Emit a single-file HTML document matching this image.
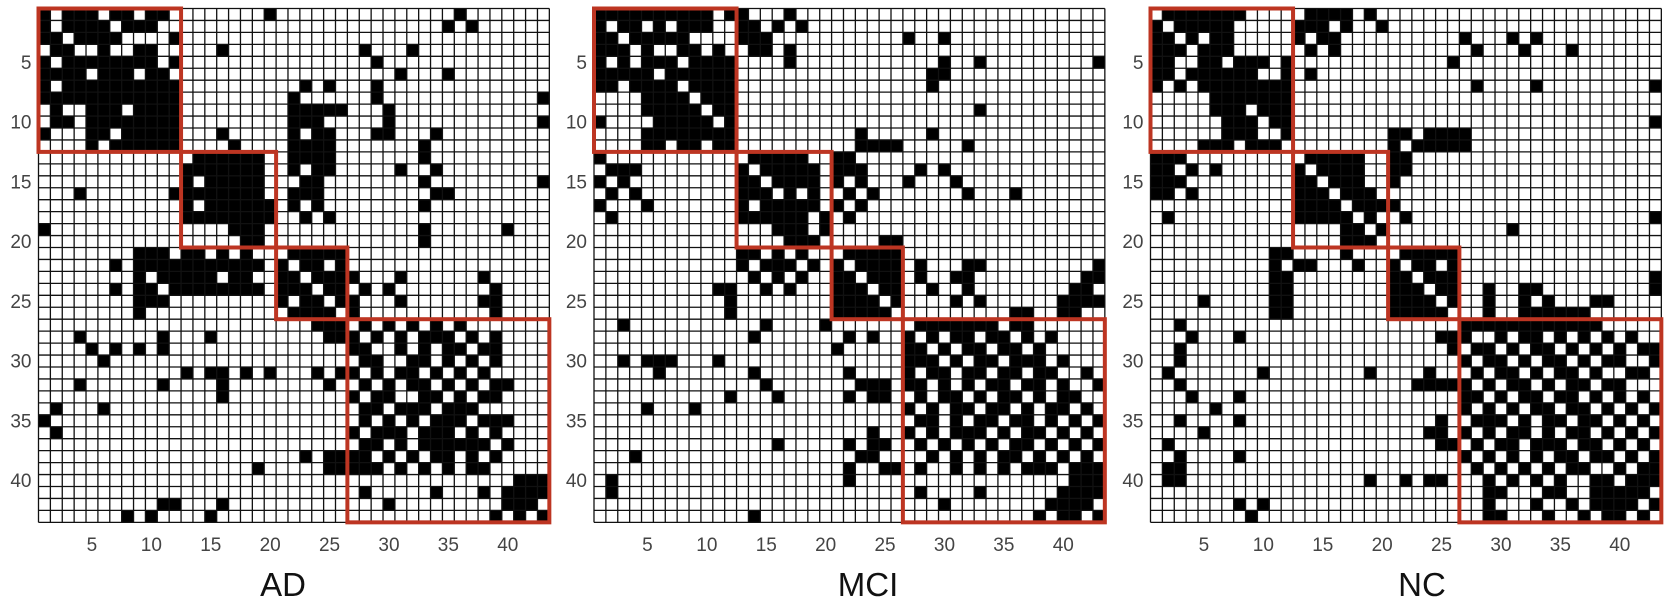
<!DOCTYPE html>
<html><head><meta charset="utf-8"><style>
html,body{margin:0;padding:0;background:#fff;}
svg{display:block;}
</style></head><body>
<svg id="chart" width="1679" height="600" xmlns="http://www.w3.org/2000/svg"></svg>
<script>
const panelTitles = ["AD","MCI","NC"];
const blockBounds = [0,12,20,26,43];
const tickValues = [5,10,15,20,25,30,35,40];
const nodeCount = 43;
const adRows = [
[1,3,4,5,7,8,10,11,20,36],[1,3,4,5,6,8,9,10,35,37],[1,2,4,5,6,7,12],[2,3,6,9,10,16,28,32],
[1,3,4,5,6,7,8,9,10,12,29],[1,2,3,4,6,7,8,10,11,31,35],[1,3,4,5,6,7,8,9,10,11,12,23,25,29],
[1,2,3,4,5,6,7,8,9,10,11,12,22,29,43],[2,5,6,7,9,10,11,12,22,23,24,25,26,30],
[2,3,5,6,7,8,9,10,11,12,22,23,24,30,43],[1,5,6,8,9,10,11,12,16,22,24,25,29,30,34],
[5,7,8,9,10,11,12,17,22,23,24,25,33],[14,15,16,17,18,19,22,23,24,25,33],
[13,14,15,16,17,18,19,22,24,25,31,34],[13,15,16,17,18,19,23,24,33,43],
[4,12,13,14,15,16,17,18,19,22,23,24,34,35],[13,15,16,17,18,19,20,22,24,33],
[13,14,15,16,17,18,19,20,23,25],[1,17,18,19,33,40],[18,19,33],
[9,10,11,13,14,16,18,22,23,24,25,26],[7,9,10,11,12,13,14,15,16,17,18,19,21,23,24,26],
[9,11,12,13,14,15,17,18,21,22,24,25,26,27,31,38],[7,9,10,12,13,14,15,16,17,18,19,21,22,23,25,26,28,30,39],
[9,10,11,21,23,24,26,27,31,38,39],[9,22,23,24,25,27,39],[24,25,26,28,30,32,34,36],
[4,11,15,25,26,27,29,31,33,34,35,37,39],[5,7,9,11,27,28,31,33,35,36,38,39],[6,28,29,32,33,35,37,39],
[13,15,16,18,20,24,26,27,29,31,32,34,36,38],[4,11,16,25,28,30,32,33,35,37,39,40],
[16,27,29,30,33,34,36,38,39],[2,6,28,29,31,32,33,35,36,37],[1,28,30,32,34,35,36,38,39,40],
[2,27,29,30,31,33,34,35,37,39],[28,29,31,33,34,35,36,37,38,40],[23,25,26,27,28,30,32,34,35,37,39],
[19,25,26,27,28,29,31,33,35,37,38],[41,42,43],[28,34,38,40,41,42,43],[11,12,16,30,40,41,42],[8,10,15,39,41,43]
];
const mciRows = [
[1,2,3,4,5,6,7,8,9,10,12,13,17],[1,3,4,6,8,9,10,13,14,16,18],[1,2,4,5,6,7,8,13,14,15,27,30],
[1,2,3,5,8,9,11,14,15,17],[1,3,5,6,7,9,10,11,12,17,30,33,43],[1,2,3,4,5,7,8,9,10,11,12,29,30],
[1,2,4,5,6,7,9,10,11,12,29],[5,6,7,8,10,11,12],[5,6,7,8,9,11,12,33],[1,6,7,8,9,10,12],
[5,6,7,8,9,10,11,12,23,29],[5,6,8,9,11,12,23,24,25,26,32],[1,14,15,16,17,18,21,22],
[2,3,4,13,15,16,17,18,19,21,22,23,28,30],[1,3,13,14,16,17,18,19,21,23,27,31],
[2,4,13,14,15,17,19,22,24,32,36],[1,5,13,15,16,17,18,19,21,23],[2,13,14,15,16,17,18,20,22],
[16,17,18,20],[17,18,19,25,26],[13,14,16,18,22,23,24,25,26],[13,15,16,17,19,21,23,24,25,26,28,32,33,43],
[14,16,18,21,22,24,25,26,28,31,32,42,43],[11,12,15,17,21,22,23,25,26,29,32,41,42],
[12,21,22,23,24,26,31,33,40,41,42,43],[12,21,22,23,24,25,36,37,40,41],[3,15,20,28,29,30,31,32,33,34,36,37],
[14,22,24,27,29,31,32,34,35,37,39],[21,27,28,30,32,33,35,36,38],[3,5,6,7,11,27,28,29,31,33,34,36,37,38,40],
[6,14,22,27,29,30,32,33,35,36,38,39,42],[15,23,24,25,27,28,30,32,34,35,37,38,40,43],
[12,16,22,24,25,28,30,31,33,35,36,38,40,41],[5,9,27,29,31,32,34,35,37,39,40,42],
[28,29,31,33,34,36,37,39,41,43],[24,27,29,31,32,33,35,37,38,40,42],[16,22,24,25,28,30,32,34,36,37,39,41,43],
[4,23,24,29,31,33,35,36,38,40,42],[22,25,26,28,31,33,35,37,38,39,41,42,43],[2,22,41,42,43],
[2,28,33,40,41,42,43],[30,39,40,41,42],[14,38,40,41,43]
];
const ncRows = [
[2,3,4,5,6,7,8,14,15,16,17,19],[1,3,4,5,6,7,13,14,15,17,20],[1,2,4,6,7,13,15,16,27,31,33],
[1,2,3,5,6,7,14,16,28,32,36],[1,2,5,6,8,9,10,12,26],[1,2,4,5,6,7,8,9,12,14],
[1,3,5,6,7,8,9,10,11,12,28,33,43],[6,7,8,9,10,11,12],[6,7,8,10,11,12],[7,8,9,11,12,43],
[7,8,9,12,21,22,24,25,26,27],[5,6,7,9,10,11,21,23,24,25,26,27],[1,2,3,14,15,16,17,18,21,22],
[1,2,4,6,13,15,16,17,18,21,22],[1,2,3,13,14,16,17,18,21],[1,2,4,13,14,15,17,18,19],
[13,14,15,16,18,19,20,21],[2,13,14,15,16,17,19,22,43],[17,18,20,31],[17,18,19],
[11,12,17,22,23,24,25,26],[11,13,14,18,21,23,24,26],[11,12,21,22,24,25,26,43],
[11,12,21,22,23,25,26,29,32,33,43],[5,11,12,21,22,23,24,26,29,32,34,38,39],
[11,12,21,22,23,24,25,29,32,33,34,35,36,37],[3,27,28,29,30,31,32,33,34,35,36,37,38],
[4,8,25,26,27,30,32,33,35,37,39,41],[3,26,28,29,31,33,34,36,38,40,42,43],[3,27,29,30,32,34,35,37,39,40,43],
[2,10,19,24,28,30,31,33,35,36,38,41,42],[3,23,24,25,26,27,29,31,32,34,36,37,39,40],
[4,8,27,28,30,32,33,35,36,38,40,42],[6,27,29,31,33,34,36,37,39,41,43],[3,8,25,28,29,30,32,34,35,37,38,40,42],
[5,24,25,27,29,31,32,34,36,37,39,41,43],[2,25,26,28,30,31,33,34,35,37,38,40,42],
[3,8,27,29,31,33,35,36,38,39,41,43],[2,3,28,30,32,34,36,37,40,42,43],
[2,3,19,22,24,25,29,31,33,35,38,39,41,42,43],[29,30,34,35,38,39,40,41,42],
[8,10,29,33,36,38,39,40,41,43],[9,29,30,34,37,39,40,42]
];
const panelData = [adRows, mciRows, ncRows];

const NS = "http://www.w3.org/2000/svg";
const svg = document.getElementById("chart");
const panelX = [38.5, 594, 1150.5];
const gridTop = 8.5, cw = 11.88, ch = 11.95;
const titleX = [283, 868, 1422];
function mk(tag, attrs){const e=document.createElementNS(NS,tag);for(const k in attrs)e.setAttribute(k,attrs[k]);return e;}

panelData.forEach((rows, p) => {
  const x0 = panelX[p];
  const xs = c => x0 + (c-1)*cw;
  const ys = r => gridTop + (r-1)*ch;
  const g = mk("g", {});
  
  
  svg.appendChild(g);
  const bg = mk("rect",{x:x0,y:gridTop,width:nodeCount*cw,height:nodeCount*ch,fill:"#fff"});
  
  
  g.appendChild(bg);
  rows.forEach((cols, ri) => {
    cols.forEach(c => {
      const cell = mk("rect",{x:xs(c),y:ys(ri+1),width:cw,height:ch,fill:"#000"});
      
      
      g.appendChild(cell);
    });
  });
  let d = "";
  for(let i=0;i<=nodeCount;i++){
    const x = x0+i*cw, y = gridTop+i*ch;
    d += `M${x.toFixed(2)},${gridTop}V${(gridTop+nodeCount*ch).toFixed(2)}`;
    d += `M${x0},${y.toFixed(2)}H${(x0+nodeCount*cw).toFixed(2)}`;
  }
  const grid = mk("path",{d:d,stroke:"#111",["stroke-width"]:1.3,fill:"none"});
  
  
  g.appendChild(grid);
  tickValues.forEach(t => {
    const ty = ys(t) + ch/2;
    const yl = mk("text",{x:x0-7,y:ty+6.5,"text-anchor":"end","font-size":19,fill:"#444","font-family":"Liberation Sans, sans-serif"});
    yl.textContent = t;
    
    
    g.appendChild(yl);
    const tx = xs(t) + cw/2;
    const xl = mk("text",{x:tx,y:551,"text-anchor":"middle","font-size":19,fill:"#444","font-family":"Liberation Sans, sans-serif"});
    xl.textContent = t;
    
    
    g.appendChild(xl);
  });
  for(let b=0;b<blockBounds.length-1;b++){
    const a = blockBounds[b], e = blockBounds[b+1];
    const r = mk("rect",{x:x0+a*cw,y:gridTop+a*ch,width:(e-a)*cw,height:(e-a)*ch,fill:"none",stroke:"#bd3522","stroke-width":4});
    
    
    g.appendChild(r);
  }
  const title = mk("text",{x:titleX[p],y:596,"text-anchor":"middle","font-size":33,fill:"#111","font-family":"Liberation Sans, sans-serif"});
  title.textContent = panelTitles[p];
  
  
  g.appendChild(title);
});
</script>
</body></html>
